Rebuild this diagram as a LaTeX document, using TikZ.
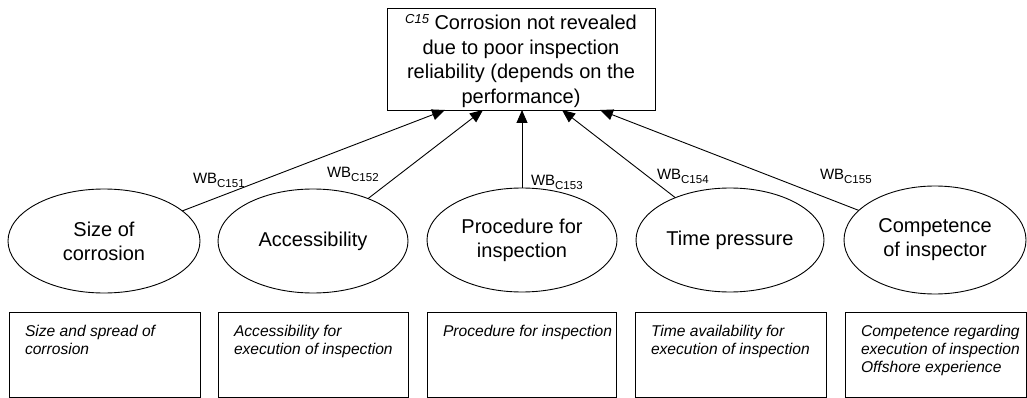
\documentclass[tikz,border=0pt]{standalone}
\usepackage{fontspec}
\setmainfont{Liberation Sans}
\usetikzlibrary{shapes.geometric,arrows.meta,calc}
\begin{document}
\begin{tikzpicture}[x=1pt,y=-1pt,
  every node/.style={inner sep=0pt,outer sep=0pt},
  topbox/.style={draw,line width=0.9pt,minimum width=268pt,minimum height=102pt},
  toptext/.style={align=center,font=\fontsize{20}{24.5}\selectfont},
  factor/.style={draw,ellipse,line width=0.9pt,minimum height=104pt,
    align=center,font=\fontsize{20}{24}\selectfont},
  descbox/.style={draw,line width=0.9pt,minimum height=85pt},
  desc/.style={anchor=north west,align=left,font=\fontsize{15.6}{18}\selectfont\itshape},
  wb/.style={anchor=west,font=\fontsize{15}{15}\selectfont},
  link/.style={-{Triangle[length=13pt,width=11pt]},line width=0.9pt},
]
\useasboundingbox (0,0) rectangle (1027,398);

% node of the top event
\node[topbox] (top) at (521,59) {};
\node[toptext] (toplabel) at ($(top.center)+(0,2)$)
  {{\fontsize{13}{13}\selectfont\itshape\raisebox{6pt}{C15}} Corrosion not revealed\\
   due to poor inspection\\ reliability (depends on the\\ performance)};

% influencing factors
\node[factor,minimum width=192pt] (e1) at (104,241) {Size of\\ corrosion};
\node[factor,minimum width=190pt] (e2) at (313,241) {Accessibility};
\node[factor,minimum width=190pt] (e3) at (522,240) {Procedure for\\ inspection};
\node[factor,minimum width=188pt] (e4) at (730,240) {Time pressure};
\node[factor,minimum width=182pt,minimum height=108pt] (e5) at (935,240) {Competence\\ of inspector};

% arrow end points on the lower edge of the top box
\coordinate (t1) at (445,110);
\coordinate (t2) at (483,110);
\coordinate (t3) at (522,110);
\coordinate (t4) at (562,110);
\coordinate (t5) at (600,110);

\draw[link] (e1) -- (t1);
\draw[link] (e2) -- (t2);
\draw[link] (e3) -- (t3);
\draw[link] (e4) -- (t4);
\draw[link] (e5) -- (t5);

% weights
\newcommand{\wbsub}[1]{WB\raisebox{-4pt}{\fontsize{11.5}{11.5}\selectfont #1}}
\node[wb] (w1) at (193,180) {\wbsub{C151}};
\node[wb] (w2) at (327,174) {\wbsub{C152}};
\node[wb] (w3) at (531,182) {\wbsub{C153}};
\node[wb] (w4) at (657,176) {\wbsub{C154}};
\node[wb] (w5) at (820,176) {\wbsub{C155}};

% descriptions
\node[descbox,minimum width=191pt] (d1) at (104.5,354.5) {};
\node[descbox,minimum width=190pt] (d2) at (313,354.5) {};
\node[descbox,minimum width=189pt] (d3) at (521.5,354.5) {};
\node[descbox,minimum width=191pt] (d4) at (730.5,354.5) {};
\node[descbox,minimum width=181pt] (d5) at (935.5,354.5) {};

\node[desc] (x1) at ($(d1.north west)+(16,13)$) {Size and spread of\\ corrosion};
\node[desc] (x2) at ($(d2.north west)+(16,13)$) {Accessibility for\\ execution of inspection};
\node[desc] (x3) at ($(d3.north west)+(16,13)$) {Procedure for inspection};
\node[desc] (x4) at ($(d4.north west)+(16,13)$) {Time availability for\\ execution of inspection};
\node[desc] (x5) at ($(d5.north west)+(16,13)$) {Competence regarding\\ execution of inspection\\ Offshore experience};
\end{tikzpicture}
\end{document}
